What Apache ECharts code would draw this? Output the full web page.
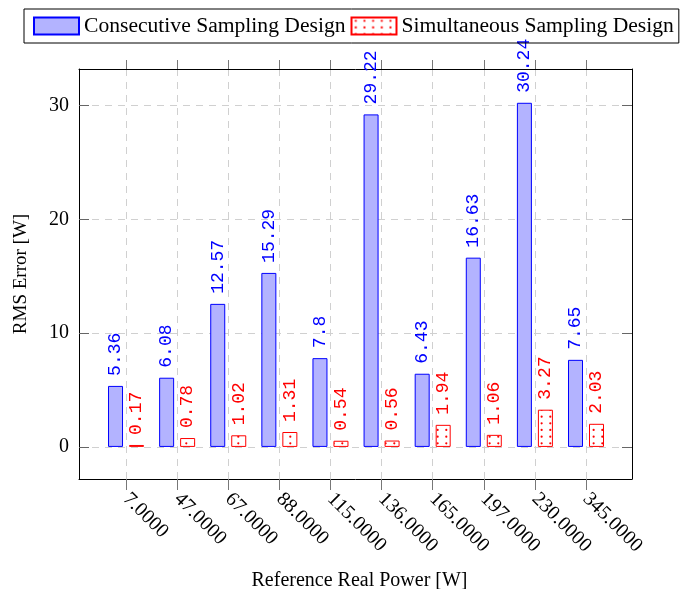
<!DOCTYPE html>
<html>
<head>
<meta charset="utf-8">
<script src="https://cdn.jsdelivr.net/npm/echarts@6/dist/echarts.min.js"></script>
<style>html,body{margin:0;padding:0;background:#fff}#c{width:682px;height:589px}</style>
</head>
<body>
<div id="c"></div>
<script>
const categories = ['7.0000','47.0000','67.0000','88.0000','115.0000','136.0000','165.0000','197.0000','230.0000','345.0000'];
const consecutive = [5.36, 6.08, 12.57, 15.29, 7.8, 29.22, 6.43, 16.63, 30.24, 7.65];
const simultaneous = [0.17, 0.78, 1.02, 1.31, 0.54, 0.56, 1.94, 1.06, 3.27, 2.03];
const yTickValues = [0, 10, 20, 30];
const xTickValues = categories.map((c, i) => i);

// dotted pattern for the red bars
const pc = document.createElement('canvas');
pc.width = 26; pc.height = 20;
const pctx = pc.getContext('2d');
pctx.fillStyle = '#ffffff';
pctx.fillRect(0, 0, 26, 20);
pctx.fillStyle = '#ff0000';
for (let i = 0; i < 3; i++) {
  for (let j = 0; j < 3; j++) {
    pctx.beginPath();
    pctx.arc(4.3 + i * 26 / 3, 3.3 + j * 20 / 3, 1.1, 0, Math.PI * 2);
    pctx.fill();
  }
}

const serif = 'Liberation Serif';
const mono = 'Liberation Mono';
const xMin = -0.92, xMax = 9.9, yMin = -2.82, yMax = 33.21;

const chart = echarts.init(document.getElementById('c'), null, {renderer: 'canvas'});
chart.setOption({
  animation: false,
  backgroundColor: '#fff',
  grid: {left: 79, right: 50, top: 69, bottom: 110, containLabel: false, outerBoundsMode: 'none'},
  legend: {
    left: 24, top: 9,
    itemWidth: 45, itemHeight: 17, itemGap: 5,
    padding: [6, 5, 6, 9],
    borderColor: '#000', borderWidth: 1,
    icon: 'rect',
    textStyle: {fontFamily: serif, fontSize: 21.6, color: '#000'},
    data: ['Consecutive Sampling Design', 'Simultaneous Sampling Design']
  },
  xAxis: [{
    type: 'value', position: 'bottom', min: xMin, max: xMax,
    name: 'Reference Real Power [W]', nameLocation: 'middle', nameGap: 92,
    nameTextStyle: {fontFamily: serif, fontSize: 20, color: '#000', padding: [0, 0, 0, 8]},
    axisLine: {onZero: false, lineStyle: {color: '#000', width: 1}},
    axisTick: {show: true, inside: false, length: 11, customValues: xTickValues, lineStyle: {color: '#777'}},
    axisLabel: {customValues: xTickValues, rotate: -45, margin: 17, fontFamily: serif, fontSize: 20, color: '#000',
      formatter: v => categories[Math.round(v)]},
    splitLine: {show: true, lineStyle: {color: '#d0d0d0', type: [7, 6], width: 1}}
  }, {
    type: 'value', position: 'top', min: xMin, max: xMax,
    axisLine: {onZero: false, lineStyle: {color: '#000', width: 1}},
    axisTick: {show: true, inside: false, length: 9, customValues: xTickValues, lineStyle: {color: '#777'}},
    axisLabel: {show: false},
    splitLine: {show: false}
  }],
  yAxis: [{
    type: 'value', position: 'left', min: yMin, max: yMax,
    name: 'RMS Error [W]', nameLocation: 'middle', nameGap: 48,
    nameTextStyle: {fontFamily: serif, fontSize: 19, color: '#000'},
    axisLine: {show: true, onZero: false, lineStyle: {color: '#000', width: 1}},
    axisTick: {show: true, inside: true, length: 10, customValues: yTickValues, lineStyle: {color: '#666'}},
    axisLabel: {customValues: yTickValues, margin: 10, fontFamily: serif, fontSize: 20, color: '#000'},
    splitLine: {show: true, lineStyle: {color: '#d0d0d0', type: [7, 6], width: 1}}
  }, {
    type: 'value', position: 'right', min: yMin, max: yMax,
    axisLine: {show: true, onZero: false, lineStyle: {color: '#000', width: 1}},
    axisTick: {show: true, inside: true, length: 10, customValues: yTickValues, lineStyle: {color: '#666'}},
    axisLabel: {show: false},
    splitLine: {show: false}
  }],
  series: [{
    name: 'Consecutive Sampling Design',
    type: 'bar', xAxisIndex: 0, yAxisIndex: 0,
    barWidth: 15, barGap: '40%',
    data: consecutive.map((v, i) => [i, v]),
    itemStyle: {color: '#b3b3ff', borderColor: '#0000ff', borderWidth: 1},
    label: {show: true, position: 'top', distance: 10, rotate: 90, align: 'left', verticalAlign: 'middle',
      fontFamily: mono, fontSize: 18, color: '#0000ff', formatter: p => String(p.value[1])}
  }, {
    name: 'Simultaneous Sampling Design',
    type: 'bar', xAxisIndex: 0, yAxisIndex: 0,
    barWidth: 15, barGap: '40%',
    data: simultaneous.map((v, i) => [i, v]),
    itemStyle: {color: {image: pc, repeat: 'repeat'}, borderColor: '#ff0000', borderWidth: 1},
    label: {show: true, position: 'top', distance: 10, rotate: 90, align: 'left', verticalAlign: 'middle',
      fontFamily: mono, fontSize: 18, color: '#ff0000', formatter: p => String(p.value[1])}
  }]
});
</script>
</body>
</html>
